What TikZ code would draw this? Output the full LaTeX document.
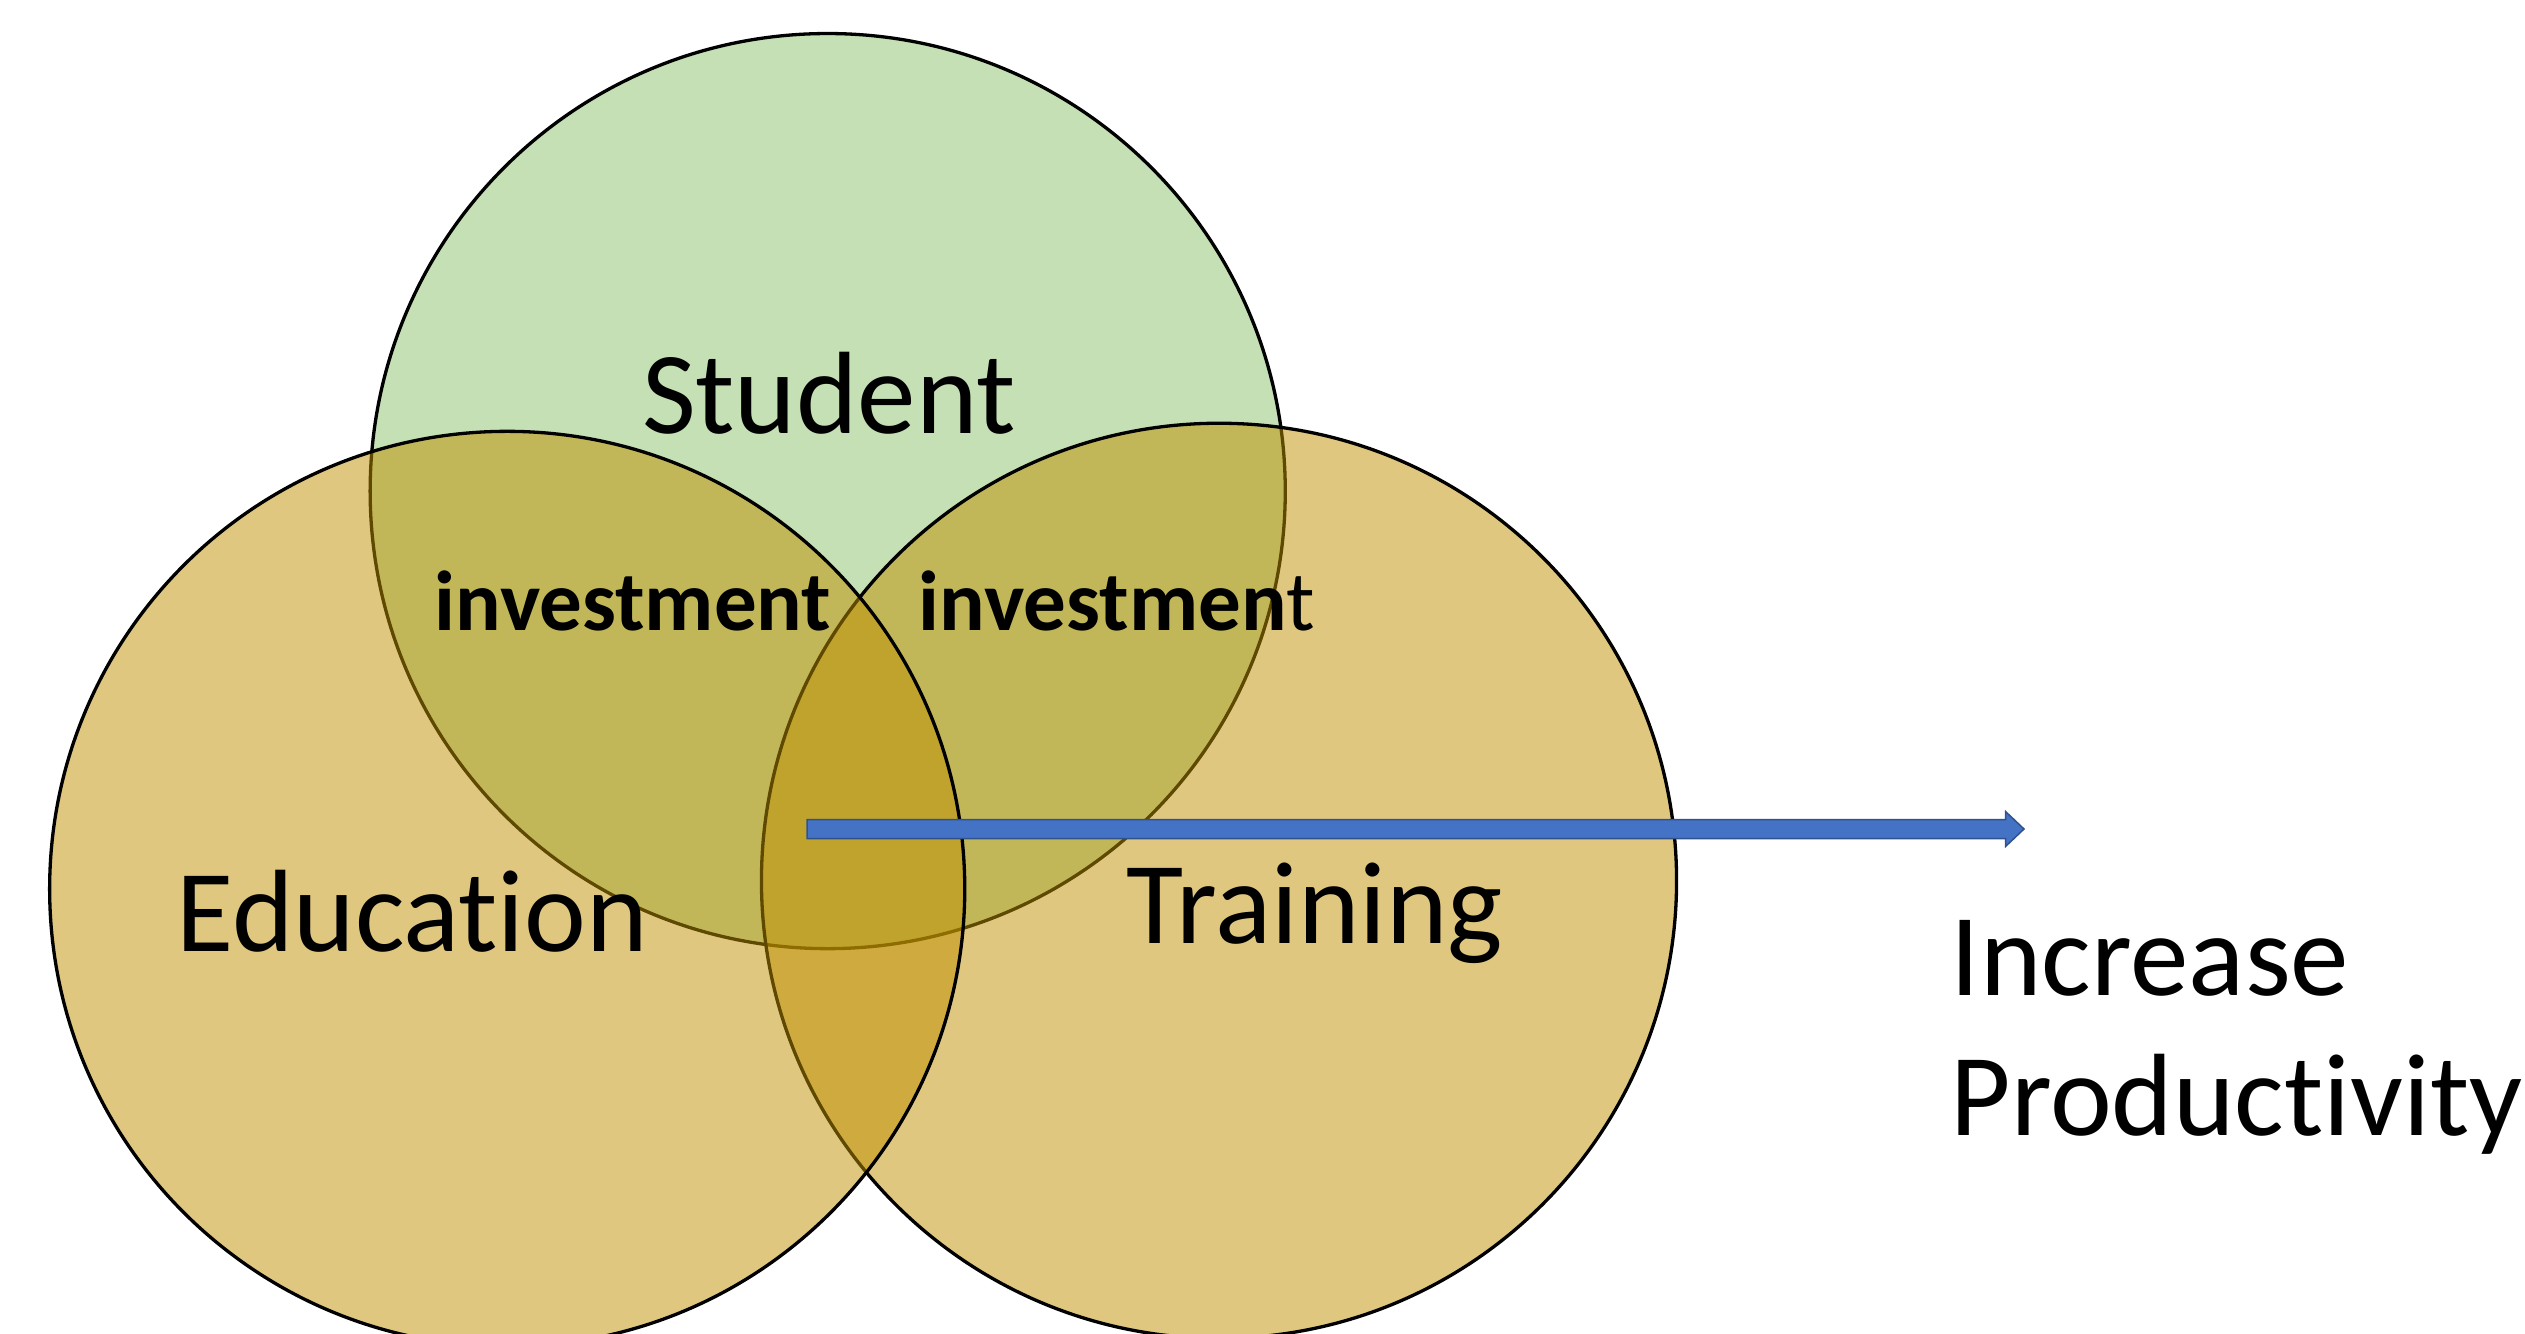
\documentclass[tikz,border=0pt]{standalone}
\usepackage{fontspec}
\setmainfont{Carlito}[Ligatures=NoCommon]
\usetikzlibrary{calc}

\definecolor{studentgreen}{HTML}{C5E0B4}
\definecolor{gold}{HTML}{BF9000}
\definecolor{arrowblue}{HTML}{4472C4}
\definecolor{arrowedge}{HTML}{2F528F}

\tikzset{
  setcircle/.style={circle, inner sep=0pt, minimum size=9.146cm, draw=black, line width=0.033cm},
  studentset/.style={setcircle, fill=studentgreen},
  goldset/.style={setcircle, fill=gold, fill opacity=0.5},
  biglabel/.style={inner sep=0pt, font=\fontsize{33.3}{40}\selectfont},
  smalllabel/.style={inner sep=0pt, font=\fontsize{24.2}{29}\selectfont},
  arrowbody/.style={fill=arrowblue, draw=arrowedge, line width=0.015cm, line join=miter}
}

\begin{document}
\begin{tikzpicture}[x=0.01cm, y=-0.01cm]
  \useasboundingbox (0,0) rectangle (2525,1334);
  \clip (0,0) rectangle (2525,1334);

  % the three sets, bottom layer first
  \node[studentset] (student)  at (827.7,491.1) {};
  \node[goldset]    (training) at (1219,880.8) {};
  \node[goldset]    (education) at (507.2,888.9) {};

  % block arrow from the common overlap towards the outcome
  \coordinate (arrtail) at (807,829);
  \coordinate (arrtip)  at (2024,829);
  \draw[arrowbody]
    ($(arrtail)+(0,-9.5)$) -- ($(arrtip)+(-18.5,-9.5)$) -- ($(arrtip)+(-18.5,-17.5)$)
    -- (arrtip) -- ($(arrtip)+(-18.5,17.5)$) -- ($(arrtip)+(-18.5,9.5)$)
    -- ($(arrtail)+(0,9.5)$) -- cycle;

  % labels
  \node[biglabel, anchor=base] (studentlbl)   at (829,434)   {Student};
  \node[biglabel, anchor=base] (educationlbl) at (412.5,951.7) {Education};
  \node[biglabel, anchor=base] (traininglbl)  at (1315,943.3) {Training};
  \node[smalllabel, anchor=base west] (invleft)  at (434,630)   {\bfseries investment};
  \node[smalllabel, anchor=base west] (invright) at (918,630) {{\bfseries investmen}t};
  \node[biglabel, anchor=base west] (increase) at (1950,995)  {Increase};
  \node[biglabel, anchor=base west] (productivity) at (1950,1135) {Productivity};
\end{tikzpicture}
\end{document}
